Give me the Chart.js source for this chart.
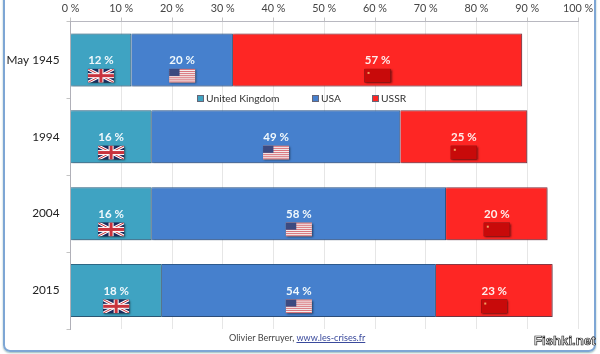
<!DOCTYPE html>
<html>
<head>
<meta charset="utf-8">
<title>Who contributed most to the defeat of Germany</title>
<script src="https://cdn.jsdelivr.net/npm/chart.js@4"></script>
<style>
  html, body { margin: 0; padding: 0; background: #fff; }
  #wrap { position: relative; width: 600px; height: 354px; overflow: hidden; }
  #frame { position: absolute; left: 3px; top: -12px; width: 589px; height: 360px; border: 2.5px solid #7ea6d4; border-radius: 7px; box-shadow: 0 1px 2px #9bb; }
  canvas { position: absolute; left: 0; top: 0; }
  #credit { position: absolute; left: 229px; top: 332px; font: 9.1px Lato, sans-serif; color: #444; white-space: nowrap; }
  #credit a { color: #3a4a9c; }
  #mark { position: absolute; left: 534px; top: 333px; font: bold 13.2px "Liberation Sans", sans-serif; color: #fff; -webkit-text-stroke: 0.7px #222; white-space: nowrap; }
</style>
</head>
<body>
<div id="wrap">
  <div id="frame"></div>
  <canvas id="shareChart" width="600" height="354"></canvas>
  <div id="credit">Olivier Berruyer, <a href="#">www.les-crises.fr</a></div>
  <div id="mark">Fishki.net</div>
</div>
<script>
const years = ['May 1945', '1994', '2004', '2015'];
const ukValues = [12, 16, 16, 18];
const usaValues = [20, 49, 58, 54];
const ussrValues = [57, 25, 20, 23];
const xTicks = [0, 10, 20, 30, 40, 50, 60, 70, 80, 90, 100];

// FLAGS
function drawUk(c, x, y, w, h) {
    c.fillStyle = '#1d2a5e';
    c.fillRect(x, y, w, h);
    c.save();
    c.beginPath();
    c.rect(x, y, w, h);
    c.clip();
    c.strokeStyle = '#fff';
    c.lineWidth = 3;
    c.beginPath();
    c.moveTo(x, y); c.lineTo(x + w, y + h);
    c.moveTo(x + w, y); c.lineTo(x, y + h);
    c.stroke();
    c.strokeStyle = '#c8323c';
    c.lineWidth = 1;
    c.stroke();
    c.restore();
    c.fillStyle = '#fff';
    c.fillRect(x + w / 2 - 2.5, y, 5, h);
    c.fillRect(x, y + h / 2 - 2.5, w, 5);
    c.fillStyle = '#c8323c';
    c.fillRect(x + w / 2 - 1.5, y, 3, h);
    c.fillRect(x, y + h / 2 - 1.5, w, 3);
}

function drawUs(c, x, y, w, h) {
    c.fillStyle = '#f4eeee';
    c.fillRect(x, y, w, h);
    c.fillStyle = '#d9747c';
    for (let i = 0; i < 7; i++) {
        c.fillRect(x, y + i * h / 6.5, w, h / 13);
    }
    c.fillStyle = '#3c4a80';
    c.fillRect(x, y, w * 0.4, h * 0.52);
}

function drawSu(c, x, y, w, h) {
    c.fillStyle = '#c80a0a';
    c.fillRect(x, y, w, h);
    c.fillStyle = '#f0a060';
    c.fillRect(x + 3, y + 3, 2, 2);
}

const flagPainters = [drawUk, drawUs, drawSu];

const flagPlugin = {
    id: 'flagPlugin',
    afterDatasetsDraw(chart) {
        const c = chart.ctx;
        const xs = chart.scales.x;
        const ys = chart.scales.y;
        chart.data.datasets.forEach((ds, d) => {
            chart.getDatasetMeta(d).data.forEach((bar, i) => {
                const start = chart.data.datasets.slice(0, d).reduce((s, o) => s + o.data[i], 0);
                const cx = xs.getPixelForValue(start + ds.data[i] / 2);
                const cy = ys.getPixelForValue(i);
                c.save();
                c.font = 'bold 11.5px Lato';
                c.fillStyle = d === 2 ? '#fdeeec' : '#f0f8fc';
                c.textAlign = 'center';
                c.textBaseline = 'middle';
                c.fillText(ds.data[i] + ' %', cx, cy + 0.5);
                c.shadowColor = 'rgba(0,0,0,0.55)';
                c.shadowBlur = 2;
                c.shadowOffsetX = 1;
                c.shadowOffsetY = 1;
                c.fillStyle = '#222';
                c.fillRect(cx - 13, cy + 9, 26, 13.5);
                c.shadowColor = 'transparent';
                flagPainters[d](c, cx - 13, cy + 9, 26, 13.5);
                c.restore();
            });
        });
    },
    // bar shadow
    beforeDatasetDraw(chart) {
        const c = chart.ctx;
        c.save();
        c.shadowColor = 'rgba(40,40,60,0.4)';
        c.shadowBlur = 2;
        c.shadowOffsetX = 1;
        c.shadowOffsetY = 1;
    },
    afterDatasetDraw(chart) {
        chart.ctx.restore();
    }
};

// LEGEND
const legendSpots = [197, 312, 372];
const legendPlugin = {
    id: 'legendPlugin',
    afterDraw(chart) {
        const c = chart.ctx;
        c.save();
        c.font = '10.3px Lato';
        c.textBaseline = 'middle';
        chart.data.datasets.forEach((ds, d) => {
            const x = legendSpots[d];
            c.fillStyle = ds.backgroundColor;
            c.strokeStyle = '#667';
            c.fillRect(x, 95, 6, 6);
            c.strokeRect(x + 0.5, 95.5, 6, 6);
            c.fillStyle = '#333';
            c.fillText(ds.label, x + 9, 98.5);
        });
        c.restore();
    }
};

const ctx = document.getElementById('shareChart').getContext('2d');
const shareChart = new Chart(ctx, {
    type: 'bar',
    data: {
        labels: years,
        datasets: [
            { label: 'United Kingdom', data: ukValues, backgroundColor: '#3fa3c2', borderColor: '#2e6a88', borderWidth: 1 },
            { label: 'USA', data: usaValues, backgroundColor: '#4680cd', borderColor: '#2f5c90', borderWidth: 1 },
            { label: 'USSR', data: ussrValues, backgroundColor: '#fe2624', borderColor: '#8e3a44', borderWidth: 1 }
        ]
    },
    options: {
        indexAxis: 'y',
        responsive: false,
        animation: false,
        categoryPercentage: 0.69,
        barPercentage: 1,
        layout: { padding: { left: 0, right: 22, top: 0, bottom: 25 } },
        plugins: {
            legend: { display: false },
            tooltip: { enabled: false }
        },
        scales: {
            x: {
                position: 'top',
                stacked: true,
                min: 0,
                max: 100,
                afterFit(axis) { axis.height = 21.5; },
                afterBuildTicks(axis) { axis.ticks = xTicks.map(v => ({ value: v })); },
                ticks: {
                    maxRotation: 0,
                    padding: 3,
                    color: '#444',
                    font: { family: 'Lato', size: 10.8 },
                    callback: v => v + ' %'
                },
                grid: { color: '#e6e6e6', tickColor: '#c4c4c4', tickLength: 4 },
                border: { color: '#b8b8c0' }
            },
            y: {
                stacked: true,
                afterFit(axis) { axis.width = 70.5; },
                ticks: {
                    padding: 7,
                    color: '#222',
                    font: { family: 'Lato', size: 11.8 }
                },
                grid: { drawOnChartArea: false, tickColor: '#c4c4c4', tickLength: 4 },
                border: { color: '#b0b0b8' }
            }
        }
    },
    plugins: [flagPlugin, legendPlugin]
});
</script>
</body>
</html>
